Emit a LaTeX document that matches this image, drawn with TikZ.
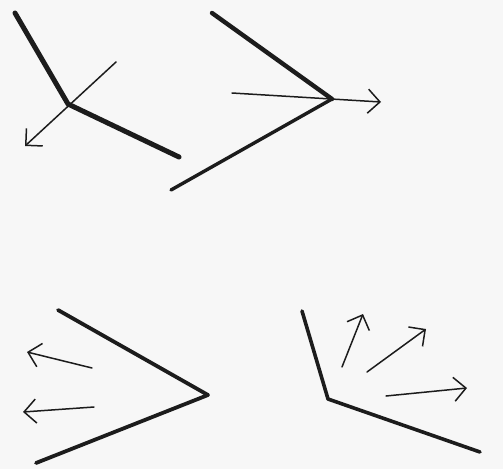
\documentclass[tikz,border=0pt]{standalone}
\usepackage{tikz}
\usetikzlibrary{arrows.meta}

\definecolor{inkBlack}{HTML}{1C1C1C}
\definecolor{paperGray}{HTML}{F7F7F7}

\begin{document}
\begin{tikzpicture}[x=1pt, y=-1pt, line cap=round, line join=round,
  bar/.style={inkBlack, line width=#1}, bar/.default=3.8pt,
  ray/.style={inkBlack, line width=1.5pt, -{Straight Barb[length=12pt, width=24pt]}}]

  % Paper (fixes the margins)
  \fill[paperGray] (0,0) rectangle (503,469);
  \useasboundingbox (0,0) rectangle (503,469);

  % --- Top left: bent bar, ray crossing the bend ---
  \coordinate (aTop)  at (15,13);
  \coordinate (aBend) at (68,104);
  \coordinate (aEnd)  at (179,157);
  \coordinate (aFrom) at (116,62);
  \coordinate (aTip)  at (25,146);

  \draw[bar=5pt] (aTop) -- (aBend) -- (aEnd);
  \draw[ray] (aFrom) -- (aTip);

  % --- Top middle: open angle, ray out through the vertex ---
  \coordinate (bTop)  at (212,13);
  \coordinate (bVert) at (332,99);
  \coordinate (bEnd)  at (171,190);
  \coordinate (bFrom) at (232,93);
  \coordinate (bTip)  at (381,102);

  \draw[bar=4.4pt] (bTop) -- (bVert);
  \draw[bar=3.4pt] (bVert) -- (bEnd);
  \draw[ray] (bFrom) -- (bTip);

  % --- Bottom left: angle pointing right, two rays to the left ---
  \coordinate (cTop)  at (58,310);
  \coordinate (cVert) at (208,395);
  \coordinate (cEnd)  at (36,463);

  \draw[bar] (cTop) -- (cVert) -- (cEnd);

  \coordinate (cFromA) at (92,368);
  \coordinate (cTipA)  at (27,352);
  \coordinate (cFromB) at (94,407);
  \coordinate (cTipB)  at (23,412);

  \draw[ray] (cFromA) -- (cTipA);
  \draw[ray] (cFromB) -- (cTipB);

  % --- Bottom right: bent bar, three rays fanning out ---
  \coordinate (dTop)  at (302,311);
  \coordinate (dBend) at (328,399);
  \coordinate (dEnd)  at (480,452);

  \draw[bar=3.6pt] (dTop) -- (dBend) -- (dEnd);

  \coordinate (dFromA) at (342,367);
  \coordinate (dTipA)  at (363,314);
  \coordinate (dFromB) at (367,372);
  \coordinate (dTipB)  at (426,329);
  \coordinate (dFromC) at (386,396);
  \coordinate (dTipC)  at (467,388);

  \draw[ray] (dFromA) -- (dTipA);
  \draw[ray] (dFromB) -- (dTipB);
  \draw[ray] (dFromC) -- (dTipC);

\end{tikzpicture}
\end{document}
